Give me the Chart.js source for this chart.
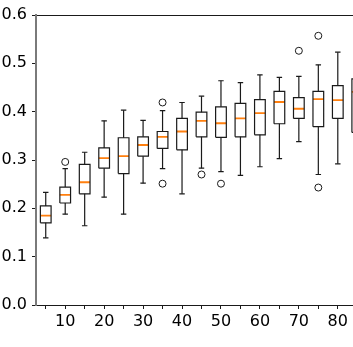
<!DOCTYPE html>
<html>
<head>
<meta charset="utf-8">
<script src="https://cdn.jsdelivr.net/npm/chart.js@4/dist/chart.umd.min.js"></script>
<style>
  html, body { margin: 0; padding: 0; background: #fff; overflow: hidden; }
  #wrap { width: 372px; height: 347px; }
</style>
</head>
<body>
<div id="wrap"><canvas id="box-chart" width="372" height="347"></canvas></div>
<script>
/* box statistics, one entry per box */
var positions = [5, 10, 15, 20, 25, 30, 35, 40, 45, 50, 55, 60, 65, 70, 75, 80, 85];
var whisLo = [0.139, 0.188, 0.164, 0.223, 0.188, 0.252, 0.282, 0.230, 0.283, 0.276, 0.268, 0.286, 0.303, 0.338, 0.270, 0.292, 0.280];
var q1     = [0.170, 0.211, 0.230, 0.283, 0.272, 0.308, 0.324, 0.321, 0.348, 0.347, 0.348, 0.352, 0.375, 0.386, 0.369, 0.386, 0.357];
var median = [0.185, 0.228, 0.254, 0.304, 0.308, 0.331, 0.348, 0.359, 0.381, 0.376, 0.386, 0.397, 0.420, 0.406, 0.426, 0.424, 0.441];
var q3     = [0.205, 0.244, 0.291, 0.325, 0.346, 0.348, 0.359, 0.386, 0.399, 0.410, 0.417, 0.425, 0.442, 0.429, 0.442, 0.454, 0.468];
var whisHi = [0.233, 0.282, 0.316, 0.381, 0.403, 0.382, 0.402, 0.419, 0.432, 0.464, 0.460, 0.476, 0.471, 0.473, 0.497, 0.523, 0.520];

var outlierX = [10, 35, 35, 45, 50, 70, 75, 75];
var outlierY = [0.296, 0.419, 0.251, 0.270, 0.251, 0.526, 0.557, 0.243];

var xTicks = [5, 10, 15, 20, 25, 30, 35, 40, 45, 50, 55, 60, 65, 70, 75, 80, 85];
var yTicks = [0, 0.1, 0.2, 0.3, 0.4, 0.5, 0.6];

(function () {
  'use strict';

  var HALF_BOX = 1.375;   // box half width, in x units
  var HALF_CAP = 0.7;
  var INK = '#1a1a1a';
  var ORANGE = '#ff7f0e';
  var FONT = { family: "'DejaVu Sans', sans-serif", size: 16 };

  function gap(x) { return { x: x, y: null }; }

  var boxPts = [], whiskPts = [], capPts = [], medPts = [];
  positions.forEach(function (x, i) {
    var l = x - HALF_BOX, r = x + HALF_BOX;
    boxPts.push({ x: l, y: q1[i] }, { x: r, y: q1[i] }, { x: r, y: q3[i] },
                { x: l, y: q3[i] }, { x: l, y: q1[i] }, gap(x));
    whiskPts.push({ x: x, y: whisLo[i] }, { x: x, y: q1[i] }, gap(x),
                  { x: x, y: q3[i] }, { x: x, y: whisHi[i] }, gap(x));
    capPts.push({ x: x - HALF_CAP, y: whisLo[i] }, { x: x + HALF_CAP, y: whisLo[i] }, gap(x),
                { x: x - HALF_CAP, y: whisHi[i] }, { x: x + HALF_CAP, y: whisHi[i] }, gap(x));
    medPts.push({ x: l, y: median[i] }, { x: r, y: median[i] }, gap(x));
  });

  var outPts = outlierX.map(function (x, i) { return { x: x, y: outlierY[i] }; });

  function seg(data, color, width) {
    return {
      data: data, borderColor: color, borderWidth: width,
      pointRadius: 0, spanGaps: false, fill: false, tension: 0
    };
  }

  function fixed(list) {
    return function (scale) { scale.ticks = list.map(function (v) { return { value: v }; }); };
  }

  new Chart(document.getElementById('box-chart'), {
    type: 'line',
    data: {
      datasets: [
        seg(whiskPts, INK, 1.2),
        seg(capPts, INK, 1.2),
        seg(boxPts, INK, 1.2),
        seg(medPts, ORANGE, 1.8),
        {
          data: outPts, showLine: false,
          pointStyle: 'circle', pointRadius: 3.5,
          pointBorderColor: INK, pointBackgroundColor: 'rgba(0,0,0,0)', pointBorderWidth: 1
        }
      ]
    },
    options: {
      responsive: false,
      animation: false,
      layout: { padding: { left: 0, right: 5, top: 0, bottom: 0 } },
      plugins: { legend: { display: false }, tooltip: { enabled: false } },
      scales: {
        x: {
          type: 'linear', position: 'bottom', min: 2.5, max: 87.5,
          afterBuildTicks: fixed(xTicks),
          afterFit: function (s) { s.height = 42; },
          grid: { display: true, drawOnChartArea: false, drawTicks: true, tickLength: 4, color: INK },
          border: { display: true, color: INK, width: 1 },
          ticks: {
            autoSkip: false, maxRotation: 0, padding: 3, color: '#000', font: FONT,
            callback: function (v) { return v % 10 === 0 ? String(v) : ''; }
          }
        },
        xTop: {
          type: 'linear', position: 'top', min: 2.5, max: 87.5,
          afterFit: function (s) { s.height = 15; },
          grid: { display: true, drawOnChartArea: false, drawTicks: false },
          border: { display: true, color: INK, width: 1 },
          ticks: { display: false }
        },
        y: {
          type: 'linear', position: 'left', min: 0, max: 0.6,
          afterBuildTicks: fixed(yTicks),
          afterFit: function (s) { s.width = 36; },
          grid: { display: true, drawOnChartArea: false, drawTicks: true, tickLength: 4, color: INK },
          border: { display: true, color: '#7a7a7a', width: 2 },
          ticks: {
            padding: 5, color: '#000', font: FONT,
            callback: function (v) { return Number(v).toFixed(1); }
          }
        }
      }
    }
  });
})();
</script>
</body>
</html>
